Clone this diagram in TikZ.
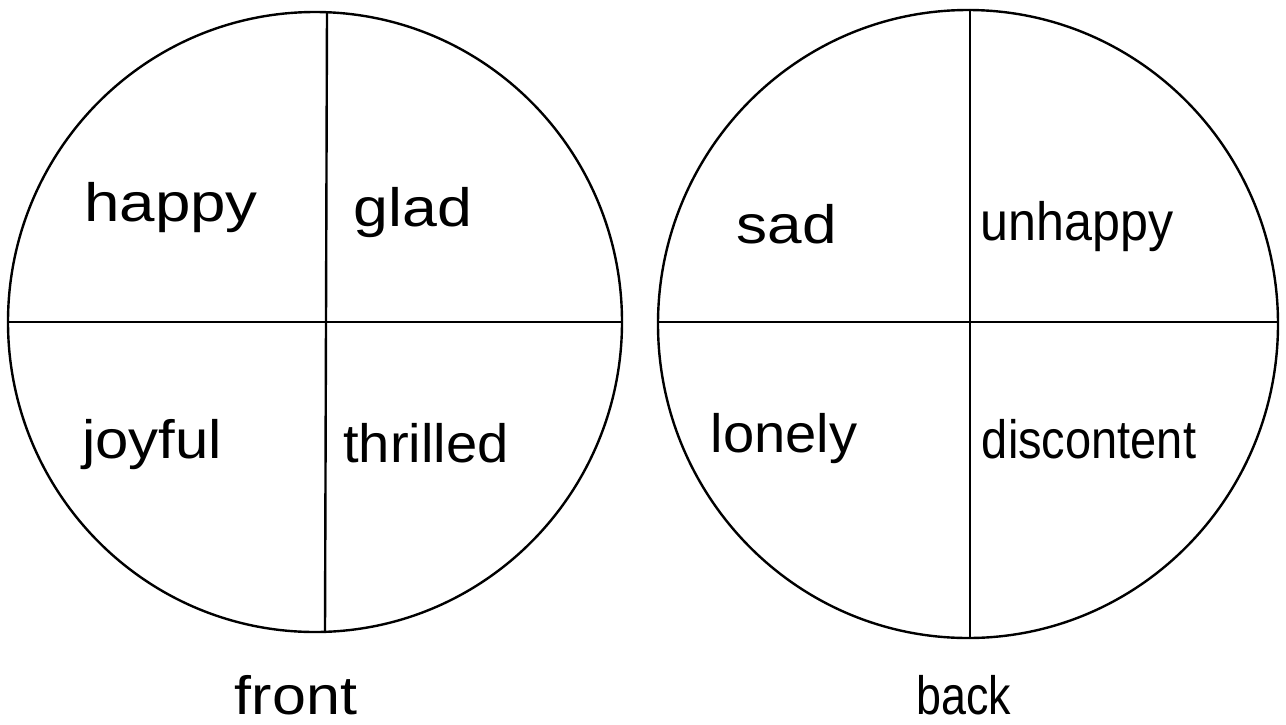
\documentclass[tikz,border=0pt]{standalone}
\usepackage{graphicx}
\usepackage{fontspec}
\setmainfont{Liberation Sans}
\newcommand{\wordw}[2]{\scalebox{#1}[1]{#2}}
\begin{document}
\begin{tikzpicture}[x=1pt,y=-1pt,
  rim/.style={line width=2.4pt, line cap=round},
  word/.style={anchor=base, inner sep=0pt, font=\fontsize{54}{54}\selectfont}]
\useasboundingbox (0,0) rectangle (1286,724);
% left circle
\draw[rim] (315,322) ellipse [x radius=307pt, y radius=310pt];
\coordinate (lt) at (327,12);
\coordinate (lb) at (325,632);
\coordinate (ll) at (8,322);
\coordinate (lr) at (622,322);
\draw[rim] (lt) -- (lb);
\draw[rim] (ll) -- (lr);
% right circle
\draw[rim] (968,324) ellipse [x radius=310pt, y radius=314pt];
\coordinate (rt) at (970,10);
\coordinate (rb) at (970,638);
\coordinate (rl) at (658,322);
\coordinate (rr) at (1278,322);
\draw[rim] (rt) -- (rb);
\draw[rim] (rl) -- (rr);
% words
\node[word] (happy) at (171,221) {\wordw{1.18}{happy}};
\node[word] (glad) at (413,226) {\wordw{1.16}{glad}};
\node[word] (joyful) at (152,458) {\wordw{1.11}{joyful}};
\node[word] (thrilled) at (426,462) {\wordw{1.04}{thrilled}};
\node[word] (sad) at (787,243) {\wordw{1.15}{sad}};
\node[word] (unhappy) at (1077,240) {\wordw{0.93}{unhappy}};
\node[word] (lonely) at (784,452) {\wordw{1.04}{lonely}};
\node[word] (discontent) at (1089,458) {\wordw{0.87}{discontent}};
\node[word] (front) at (296,714) {\wordw{1.13}{front}};
\node[word] (back) at (964,714) {\wordw{0.83}{back}};
\end{tikzpicture}
\end{document}
